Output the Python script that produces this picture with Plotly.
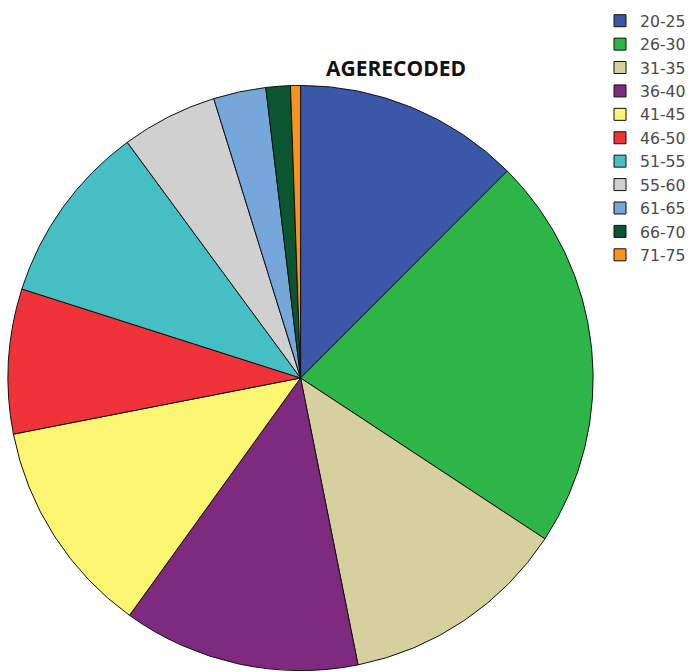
import plotly.graph_objects as go

labels = ["20-25", "26-30", "31-35", "36-40", "41-45", "46-50", "51-55", "55-60", "61-65", "66-70", "71-75"]
values = [12.5, 21.8, 12.6, 13.1, 12.0, 8.0, 10.0, 5.3, 2.9, 1.35, 0.55]
colors = ["#3C56A8", "#2EB548", "#D5D09D", "#7D2A7F", "#FBF672", "#EF3338",
          "#46BFC4", "#D0D0D0", "#76A7DA", "#0C5531", "#F7931E"]

fig = go.Figure(go.Pie(
    labels=labels, values=values, sort=False, direction="clockwise", rotation=0,
    marker=dict(colors=colors, line=dict(color="#111111", width=1)),
    textinfo="none", hoverinfo="label+percent",
    domain=dict(x=[8/691, 594/691], y=[1/672, 1 - 85/672]),
))
fig.update_layout(
    width=691, height=672, margin=dict(l=0, r=0, t=0, b=0),
    paper_bgcolor="white", plot_bgcolor="white",
    showlegend=True,
    legend=dict(x=601/691, y=1 - 4/672, xanchor="left", yanchor="top",
                font=dict(family="DejaVu Sans", size=15.7, color="#4a4a4a"),
                itemwidth=30, tracegroupgap=0),
    annotations=[dict(text="<b>AGERECODED</b>", x=397/691, y=1 - 68/672,
                      xref="paper", yref="paper", showarrow=False,
                      xanchor="center", yanchor="middle",
                      font=dict(family="Open Sans", size=21, color="#111111"))],
)
fig.write_html("out.html")
